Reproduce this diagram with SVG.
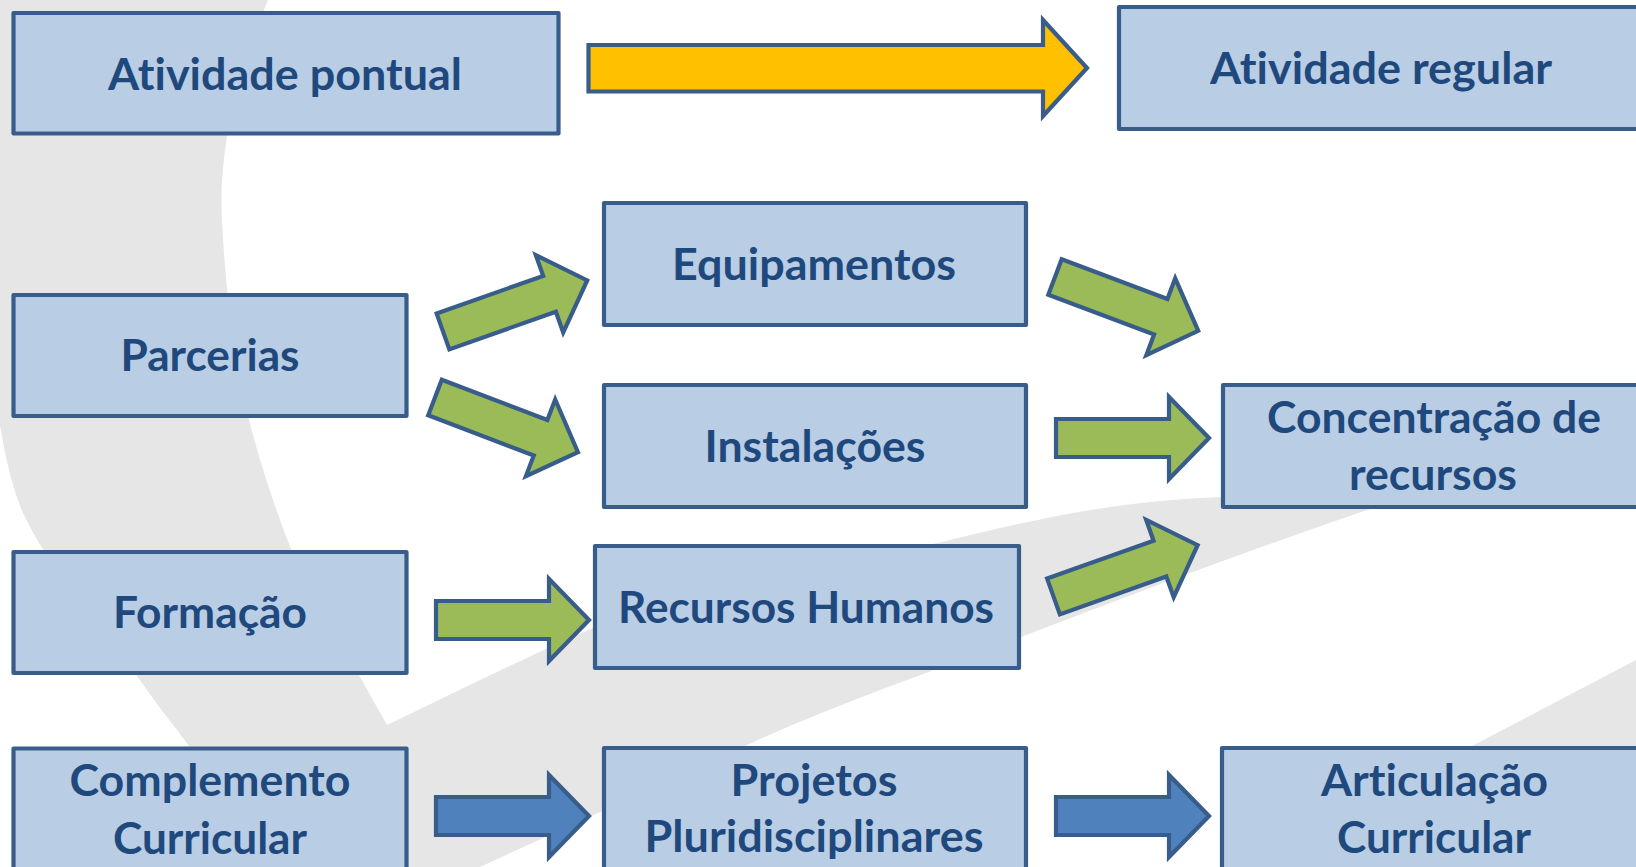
<svg xmlns="http://www.w3.org/2000/svg" width="1636" height="867" viewBox="0 0 1636 867">
<defs>
<style>
.box{fill:#B9CDE5;stroke:#385D8A;stroke-width:4.2;stroke-linejoin:round}
.lbl{font-family:Lato,"Open Sans","Liberation Sans",sans-serif;font-weight:700;font-size:43px;fill:#1F497D;text-anchor:middle;font-variant-ligatures:none;font-feature-settings:"liga" 0,"clig" 0}
.arr{stroke:#385D8A;stroke-width:4.2;stroke-linejoin:miter}
.green{fill:#9BBB59}
.blue{fill:#4F81BD}
.yellow{fill:#FFC000}
.bg{fill:#E6E6E6}
</style>
<path id="ar" d="M0,-19 H113 V-41 L153,0 L113,41 V19 H0 Z"/>
</defs>
<rect width="1636" height="867" fill="#FFFFFF"/>
<g id="background">
<path class="bg" d="M0,0 L268,0 C238,70 218,150 222,221 C226,300 236,370 249,420 C262,470 300,600 360,677 L387,725 C460,690 530,655 600,625 C720,580 830,560 938,543 C1030,520 1120,500 1222,497 C1350,485 1460,475 1560,470 C1480,480 1420,495 1367,510 C1250,550 1130,595 1021,637 C930,672 840,703 758,740 C660,785 560,830 480,867 L285,867 C250,820 210,775 177,730 C160,708 150,695 140,680 C95,620 50,570 23,513 C12,488 5,455 0,425 Z"/>
<path class="bg" d="M1430,768 L1636,660 L1636,867 L1350,867 Z"/>
</g>
<g id="connectors">
<path class="arr yellow" d="M588.5,45 H1043 V20 L1087,68 L1043,116 V91.5 H588.5 Z"/>
<use href="#ar" class="arr green" transform="translate(443,331.5) rotate(-19.5)"/>
<use href="#ar" class="arr green" transform="translate(435,397.5) rotate(20.9)"/>
<use href="#ar" class="arr green" transform="translate(1055,277) rotate(20.6)"/>
<use href="#ar" class="arr green" transform="translate(1056,438)"/>
<use href="#ar" class="arr green" transform="translate(436,620)"/>
<use href="#ar" class="arr green" transform="translate(1053.5,596.5) rotate(-19.6)"/>
<use href="#ar" class="arr blue" transform="translate(436,816)"/>
<use href="#ar" class="arr blue" transform="translate(1056,816)"/>
</g>
<g id="n-atividade-pontual">
<rect class="box" x="13.5" y="13" width="545" height="120.5"/>
<text class="lbl" x="285" y="89.5" textLength="354" lengthAdjust="spacingAndGlyphs">Atividade pontual</text>
</g>
<g id="n-atividade-regular">
<rect class="box" x="1119" y="7" width="560" height="122"/>
<text class="lbl" x="1381" y="83.5" textLength="342" lengthAdjust="spacingAndGlyphs">Atividade regular</text>
</g>
<g id="n-equipamentos">
<rect class="box" x="604" y="203" width="422" height="122"/>
<text class="lbl" x="814" y="280" textLength="284" lengthAdjust="spacingAndGlyphs">Equipamentos</text>
</g>
<g id="n-parcerias">
<rect class="box" x="13.5" y="295" width="393" height="121"/>
<text class="lbl" x="210" y="370.5" textLength="179" lengthAdjust="spacingAndGlyphs">Parcerias</text>
</g>
<g id="n-instalacoes">
<rect class="box" x="604" y="385" width="422" height="122"/>
<text class="lbl" x="815" y="461.5" textLength="221" lengthAdjust="spacingAndGlyphs">Instalações</text>
</g>
<g id="n-concentracao">
<rect class="box" x="1223" y="385" width="450" height="122"/>
<text class="lbl" x="1434" y="432.5" textLength="334" lengthAdjust="spacingAndGlyphs">Concentração de</text>
<text class="lbl" x="1433" y="490" textLength="168" lengthAdjust="spacingAndGlyphs">recursos</text>
</g>
<g id="n-formacao">
<rect class="box" x="13.5" y="552" width="393" height="121"/>
<text class="lbl" x="210" y="627.5" textLength="194" lengthAdjust="spacingAndGlyphs">Formação</text>
</g>
<g id="n-recursos-humanos">
<rect class="box" x="595" y="546" width="424" height="122"/>
<text class="lbl" x="806" y="622.5" textLength="376" lengthAdjust="spacingAndGlyphs">Recursos Humanos</text>
</g>
<g id="n-complemento">
<rect class="box" x="13.5" y="748.5" width="393" height="125"/>
<text class="lbl" x="210" y="796" textLength="281" lengthAdjust="spacingAndGlyphs">Complemento</text>
<text class="lbl" x="210" y="853.5" textLength="194" lengthAdjust="spacingAndGlyphs">Curricular</text>
</g>
<g id="n-projetos">
<rect class="box" x="604" y="748" width="422" height="125"/>
<text class="lbl" x="814" y="795.5" textLength="167" lengthAdjust="spacingAndGlyphs">Projetos</text>
<text class="lbl" x="814" y="852" textLength="339" lengthAdjust="spacingAndGlyphs">Pluridisciplinares</text>
</g>
<g id="n-articulacao">
<rect class="box" x="1222" y="748" width="450" height="125"/>
<text class="lbl" x="1434.5" y="795.5" textLength="227" lengthAdjust="spacingAndGlyphs">Articulação</text>
<text class="lbl" x="1434" y="852.5" textLength="194" lengthAdjust="spacingAndGlyphs">Curricular</text>
</g>
</svg>
